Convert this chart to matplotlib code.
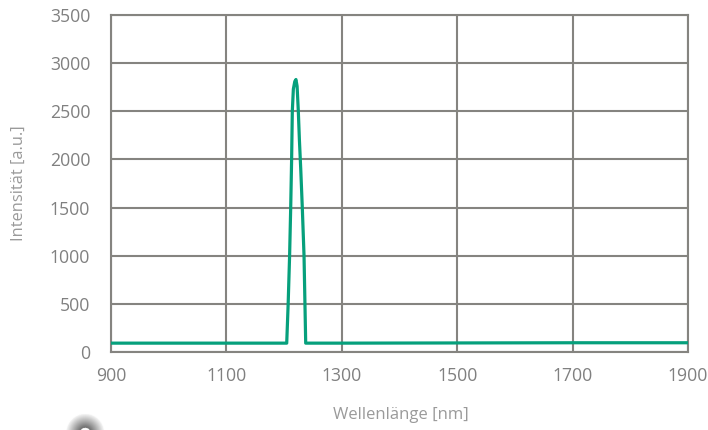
#!/usr/bin/env python3
"""Emission spectrum: intensity vs wavelength, single narrow peak near 1220 nm."""

import matplotlib as mpl
import matplotlib.pyplot as plt
import numpy as np

# wavelength [nm] and intensity [a.u.]
WAVELENGTH = [900, 1000, 1100, 1204.5, 1207, 1209.5, 1211.4, 1213, 1214.2,
              1216, 1218.5, 1220.5, 1222.5, 1224.6, 1226.5, 1228.8, 1231.5,
              1234.5, 1237.4, 1300, 1500, 1700, 1900]
INTENSITY = [92, 92, 92, 92, 500, 1000, 1500, 2000, 2500,
             2730, 2810, 2830, 2760, 2500, 2200, 1900, 1500,
             1000, 92, 92, 94, 96, 96]

X_TICKS = [900, 1100, 1300, 1500, 1700, 1900]
Y_TICKS = [0, 500, 1000, 1500, 2000, 2500, 3000, 3500]

GRID = "#858480"
LINE = "#06a07c"
TICK_TXT = "#808080"
LABEL_TXT = "#9a9a9a"

mpl.rcParams.update({
    "font.family": ["Open Sans", "DejaVu Sans"],
    "figure.facecolor": "white",
})

fig = plt.figure(figsize=(7.08, 4.30), dpi=100)
ax = fig.add_axes([0.1568, 0.1814, 0.815, 0.7837])

ax.plot(WAVELENGTH, INTENSITY, color=LINE, lw=2.3, solid_joinstyle="round",
        solid_capstyle="round", zorder=3)

ax.set_xlim(900, 1900)
ax.set_ylim(0, 3500)
ax.set_xticks(X_TICKS)
ax.set_yticks(Y_TICKS)
ax.grid(True, color=GRID, lw=1.5)
ax.set_axisbelow(True)
for sp in ax.spines.values():
    sp.set_color(GRID)
    sp.set_linewidth(1.5)
ax.tick_params(length=0, labelsize=12.7, labelcolor=TICK_TXT)
ax.tick_params(axis="y", pad=15)
ax.tick_params(axis="x", pad=11)

ax.set_ylabel("Intensität [a.u.]", fontsize=11.8, color=LABEL_TXT, va="center")
ax.yaxis.set_label_coords(-0.1595, 0.5)
ax.set_xlabel("Wellenlänge [nm]", fontsize=12, color=LABEL_TXT, va="center")
ax.xaxis.set_label_coords(0.503, -0.186)

# decorative grey ring cut off at the bottom-left edge
ax_r = fig.add_axes([40 / 708, 0, 90 / 708, 30 / 430])
ax_r.axis("off")
yy, xx = np.mgrid[0:30:0.5, 0:90:0.5]
r = np.hypot(xx - 45, yy - (-3))
shade = np.clip((r - 5) / 14, 0, 1)
rgba = np.ones(r.shape + (4,))
grey = 0.42 + 0.55 * shade
rgba[..., 0] = grey
rgba[..., 1] = grey
rgba[..., 2] = grey
rgba[..., 3] = np.where((r > 5) & (r < 19), 1.0, 0.0)
ax_r.imshow(rgba, origin="lower", extent=[0, 90, 0, 30], aspect="auto")

fig.savefig("out.png", dpi=100)
